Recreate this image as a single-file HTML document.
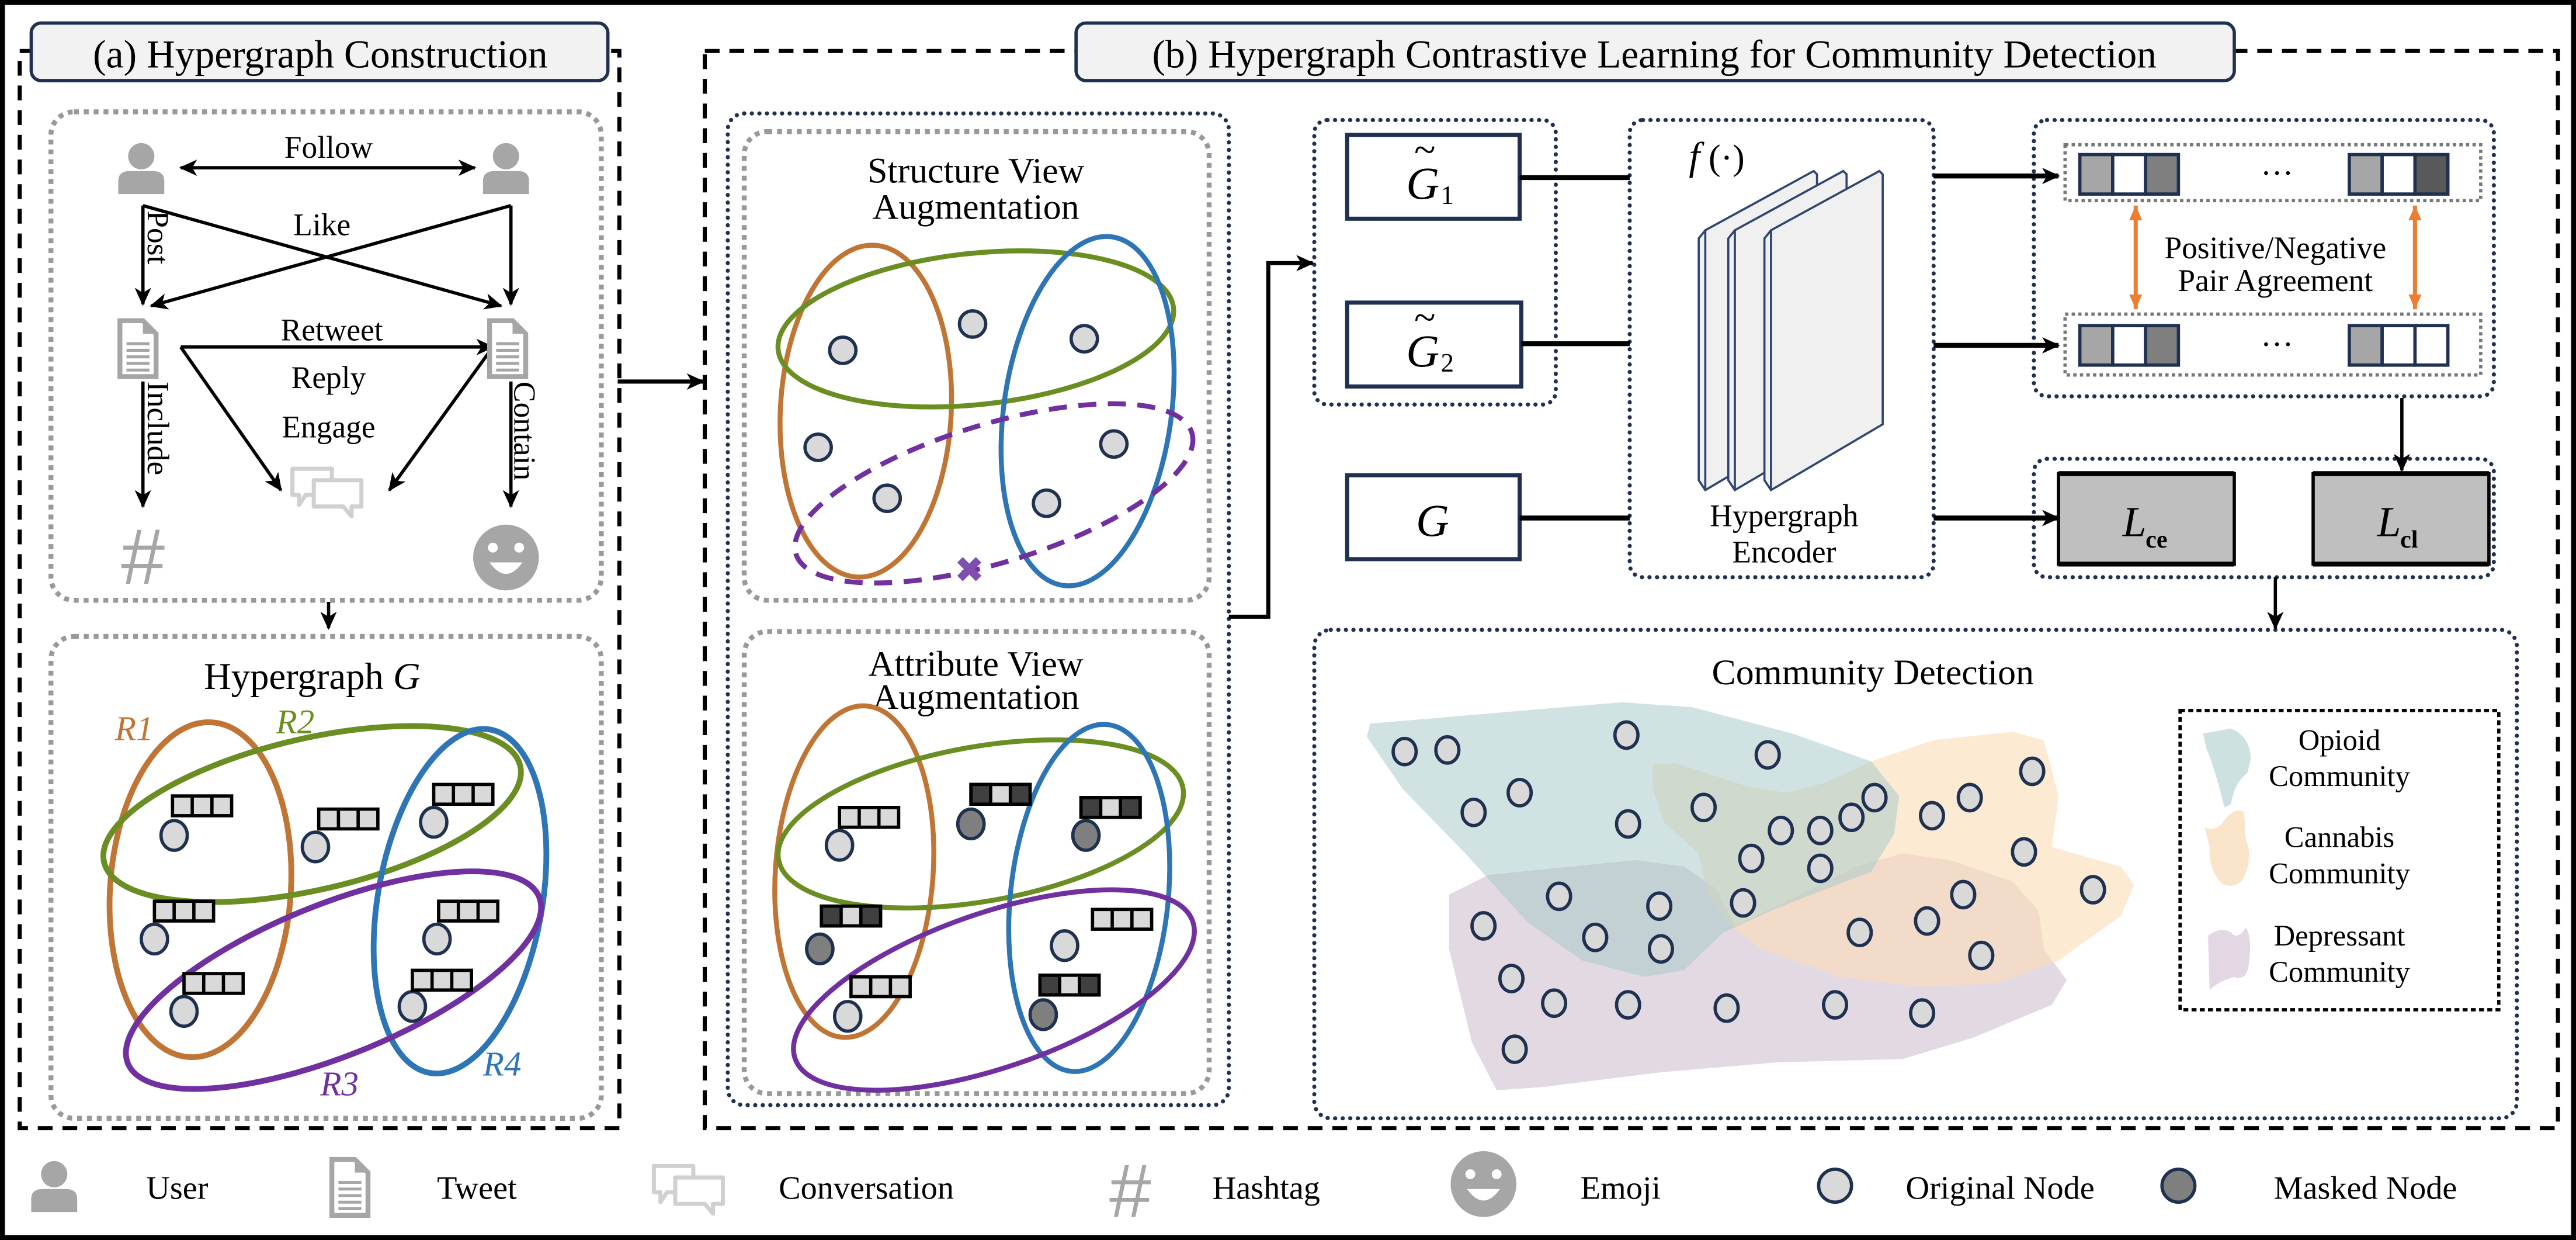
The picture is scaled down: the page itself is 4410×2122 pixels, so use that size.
<!DOCTYPE html>
<html><head><meta charset="utf-8"><style>
html,body{margin:0;padding:0;background:#fff}
svg{display:block}
</style></head><body>
<svg width="4410" height="2122" viewBox="0 0 1568 754" preserveAspectRatio="none" xmlns="http://www.w3.org/2000/svg" font-family="'Liberation Serif','DejaVu Serif',serif">
<defs>
<marker id="ah" markerUnits="userSpaceOnUse" markerWidth="12" markerHeight="12" refX="10" refY="6" orient="auto-start-reverse"><path d="M0,1 L11,6 L0,11 L3,6 Z" fill="#000"/></marker>
<marker id="ao" markerUnits="userSpaceOnUse" markerWidth="10" markerHeight="10" refX="9" refY="5" orient="auto-start-reverse"><path d="M0,1 L9,5 L0,9 Z" fill="#ed7d31"/></marker>
<symbol id="user" viewBox="-16 -19 32 34" overflow="visible"><circle cx="0" cy="-9" r="8" fill="#a6a6a6"/><path d="M-14,14 L-14,6 Q-14,0 -7,0 L7,0 Q14,0 14,6 L14,14 Z" fill="#a6a6a6"/></symbol>
<symbol id="doc" viewBox="-13 -19 26 38" overflow="visible"><path d="M-11,-17 L3,-17 L11,-9 L11,17 L-11,17 Z" fill="#fff" stroke="#a6a6a6" stroke-width="3"/><path d="M3,-17 L3,-9 L11,-9 Z" fill="#a6a6a6"/><g stroke="#a6a6a6" stroke-width="1.8"><line x1="-7" y1="-3" x2="7" y2="-3"/><line x1="-7" y1="1" x2="7" y2="1"/><line x1="-7" y1="5" x2="7" y2="5"/><line x1="-7" y1="9" x2="7" y2="9"/><line x1="-7" y1="13" x2="7" y2="13"/></g></symbol>
<symbol id="chat" viewBox="-26 -16 52 34" overflow="visible"><g fill="#fff" stroke="#d0d0d0" stroke-width="2.5" stroke-linejoin="round"><path d="M-22,-13 L2,-13 L2,3 L-14,3 L-18,9 L-18,3 L-22,3 Z"/><path d="M-9,-6 L20,-6 L20,10 L14,10 L14,16 L9,10 L-9,10 Z"/></g></symbol>
<symbol id="bar" overflow="visible"><rect x="0" y="0" width="36" height="12" fill="#d9d9d9" stroke="#000" stroke-width="2"/><line x1="12" y1="0" x2="12" y2="12" stroke="#000" stroke-width="2"/><line x1="24" y1="0" x2="24" y2="12" stroke="#000" stroke-width="2"/></symbol>
<symbol id="bard" overflow="visible"><rect x="0" y="0" width="36" height="12" fill="#d9d9d9" stroke="#000" stroke-width="2"/><rect x="0" y="0" width="12" height="12" fill="#404040" stroke="#000" stroke-width="2"/><rect x="24" y="0" width="12" height="12" fill="#404040" stroke="#000" stroke-width="2"/></symbol>
</defs>

<rect x="1.5" y="1.5" width="1565" height="751" fill="#fff" stroke="#000" stroke-width="3"/>

<!-- Panel (a) -->
<rect x="12" y="31" width="365" height="655" fill="none" stroke="#000" stroke-width="2.5" stroke-dasharray="9 6"/>
<rect x="19" y="14" width="351" height="35" rx="6" fill="#f2f2f2" stroke="#1f3050" stroke-width="2"/>
<text x="195" y="41" font-size="24" text-anchor="middle">(a) Hypergraph Construction</text>

<rect x="31" y="68" width="335" height="297" rx="14" fill="none" stroke="#999" stroke-width="3" stroke-dasharray="3 3"/>
<use href="#user" x="70" y="85" width="32" height="34"/>
<use href="#user" x="292" y="85" width="32" height="34"/>
<line x1="110" y1="102" x2="289" y2="102" stroke="#000" stroke-width="2" marker-start="url(#ah)" marker-end="url(#ah)"/>
<text x="200" y="96" font-size="19" text-anchor="middle">Follow</text>
<g stroke="#000" stroke-width="2" fill="none">
<polyline points="87,125 87,185" marker-end="url(#ah)"/>
<line x1="87" y1="125" x2="305" y2="186" marker-end="url(#ah)"/>
<polyline points="311,125 311,185" marker-end="url(#ah)"/>
<line x1="311" y1="125" x2="92" y2="186" marker-end="url(#ah)"/>
<line x1="110" y1="211" x2="300" y2="211" marker-end="url(#ah)"/>
<line x1="110" y1="211" x2="171" y2="298" marker-end="url(#ah)"/>
<line x1="300" y1="211" x2="237" y2="298" marker-end="url(#ah)"/>
<line x1="87" y1="232" x2="87" y2="308" marker-end="url(#ah)"/>
<line x1="311" y1="232" x2="311" y2="308" marker-end="url(#ah)"/>
</g>
<text x="196" y="143" font-size="19" text-anchor="middle">Like</text>
<text transform="translate(90,128) rotate(90)" font-size="19">Post</text>
<use href="#doc" x="71" y="193" width="26" height="38"/>
<use href="#doc" x="296" y="193" width="26" height="38"/>
<text x="202" y="207" font-size="19" text-anchor="middle">Retweet</text>
<text x="200" y="236" font-size="19" text-anchor="middle">Reply</text>
<text x="200" y="266" font-size="19" text-anchor="middle">Engage</text>
<use href="#chat" x="174" y="282" width="52" height="34"/>
<text transform="translate(90,232) rotate(90)" font-size="19">Include</text>
<text transform="translate(313,232) rotate(90)" font-size="19">Contain</text>
<text x="87" y="355" font-size="48" text-anchor="middle" fill="#a6a6a6" font-family="'Liberation Sans',sans-serif">#</text>
<circle cx="308" cy="339" r="20" fill="#a6a6a6"/>
<circle cx="300" cy="333" r="3" fill="#fff"/><circle cx="316" cy="333" r="3" fill="#fff"/>
<path d="M298,342 Q308,356 318,342 Z" fill="#fff"/>
<line x1="200" y1="366" x2="200" y2="382" stroke="#000" stroke-width="2" marker-end="url(#ah)"/>

<rect x="31" y="387" width="335" height="293" rx="14" fill="none" stroke="#999" stroke-width="3" stroke-dasharray="3 3"/>
<text x="190" y="419" font-size="23" text-anchor="middle">Hypergraph <tspan font-style="italic">G</tspan></text>
<g fill="none" stroke-width="3.5">
<ellipse cx="122" cy="541" rx="55" ry="102" transform="rotate(4 122 541)" stroke="#c07535"/>
<ellipse cx="190" cy="495" rx="130" ry="46" transform="rotate(-13 190 495)" stroke="#6b8e23"/>
<ellipse cx="280" cy="548" rx="50" ry="106" transform="rotate(10 280 548)" stroke="#2e75b6"/>
<ellipse cx="203" cy="596" rx="135" ry="46" transform="rotate(-22 203 596)" stroke="#7030a0"/>
</g>
<g font-size="21" font-style="italic">
<text x="70" y="450" fill="#c07535">R1</text>
<text x="168" y="446" fill="#6b8e23">R2</text>
<text x="195" y="666" fill="#7030a0">R3</text>
<text x="294" y="654" fill="#2e75b6">R4</text>
</g>
<g fill="#d9d9d9" stroke="#1f3050" stroke-width="2">
<ellipse cx="106" cy="508" rx="8" ry="9"/><ellipse cx="192" cy="515" rx="8" ry="9"/><ellipse cx="264" cy="500" rx="8" ry="9"/>
<ellipse cx="94" cy="571" rx="8" ry="9"/><ellipse cx="266" cy="571" rx="8" ry="9"/><ellipse cx="112" cy="615" rx="8" ry="9"/><ellipse cx="251" cy="612" rx="8" ry="9"/>
</g>
<use href="#bar" x="105" y="484"/><use href="#bar" x="194" y="492"/><use href="#bar" x="264" y="477"/>
<use href="#bar" x="94" y="548"/><use href="#bar" x="267" y="548"/><use href="#bar" x="112" y="592"/><use href="#bar" x="251" y="590"/>

<!-- Panel (b) -->
<line x1="376" y1="232" x2="428" y2="232" stroke="#000" stroke-width="2.5" marker-end="url(#ah)"/>
<rect x="429" y="31" width="1128" height="655" fill="none" stroke="#000" stroke-width="2.5" stroke-dasharray="9 6"/>
<rect x="655" y="14" width="705" height="35" rx="6" fill="#f2f2f2" stroke="#1f3050" stroke-width="2"/>
<text x="1007" y="41" font-size="24" text-anchor="middle">(b) Hypergraph Contrastive Learning for Community Detection</text>

<g fill="none" stroke="#1f3050" stroke-width="2.5" stroke-dasharray="0.1 4.5" stroke-linecap="round">
<rect x="443" y="69" width="305" height="603" rx="10"/>
<rect x="800" y="73" width="147" height="173" rx="8"/>
<rect x="992" y="73" width="185" height="278" rx="8"/>
<rect x="1238" y="73" width="280" height="168" rx="8"/>
<rect x="1238" y="279" width="280" height="72" rx="8"/>
<rect x="800" y="383" width="732" height="297" rx="10"/>
</g>
<g fill="none" stroke="#999" stroke-width="3" stroke-dasharray="3 3">
<rect x="453" y="80" width="283" height="285" rx="14"/>
<rect x="453" y="384" width="283" height="281" rx="14"/>
</g>
<text x="594" y="111" font-size="22" text-anchor="middle">Structure View</text>
<text x="594" y="133" font-size="22" text-anchor="middle">Augmentation</text>
<g fill="none" stroke-width="3">
<ellipse cx="527" cy="250" rx="52" ry="101" transform="rotate(3 527 250)" stroke="#c07535"/>
<ellipse cx="594" cy="200" rx="121" ry="46" transform="rotate(-6 594 200)" stroke="#6b8e23"/>
<ellipse cx="662" cy="250" rx="51" ry="107" transform="rotate(8 662 250)" stroke="#2e75b6"/>
<ellipse cx="605" cy="300" rx="126" ry="42" transform="rotate(-17 605 300)" stroke="#7030a0" stroke-dasharray="11 7"/>
</g>
<text x="590" y="354" font-size="22" text-anchor="middle" fill="#7f4fb0" font-family="'DejaVu Sans',sans-serif" font-weight="bold">✖</text>
<g fill="#d9d9d9" stroke="#1f3050" stroke-width="2">
<circle cx="513" cy="213" r="8"/><circle cx="592" cy="197" r="8"/><circle cx="660" cy="206" r="8"/>
<circle cx="498" cy="272" r="8"/><circle cx="540" cy="303" r="8"/><circle cx="678" cy="270" r="8"/><circle cx="637" cy="306" r="8"/>
</g>

<text x="594" y="411" font-size="22" text-anchor="middle">Attribute View</text>
<text x="594" y="431" font-size="22" text-anchor="middle">Augmentation</text>
<g fill="none" stroke-width="3">
<ellipse cx="520" cy="530" rx="48" ry="101" transform="rotate(4 520 530)" stroke="#c07535"/>
<ellipse cx="597" cy="501" rx="125" ry="47" transform="rotate(-10 597 501)" stroke="#6b8e23"/>
<ellipse cx="663" cy="546" rx="48" ry="106" transform="rotate(6 663 546)" stroke="#2e75b6"/>
<ellipse cx="605" cy="602" rx="128" ry="47" transform="rotate(-19 605 602)" stroke="#7030a0"/>
</g>
<g stroke="#1f3050" stroke-width="2">
<ellipse cx="511" cy="514" rx="8" ry="9" fill="#d9d9d9"/><ellipse cx="591" cy="501" rx="8" ry="9" fill="#7f7f7f"/><ellipse cx="661" cy="508" rx="8" ry="9" fill="#7f7f7f"/>
<ellipse cx="499" cy="577" rx="8" ry="9" fill="#7f7f7f"/><ellipse cx="516" cy="618" rx="8" ry="9" fill="#d9d9d9"/><ellipse cx="648" cy="575" rx="8" ry="9" fill="#d9d9d9"/><ellipse cx="635" cy="617" rx="8" ry="9" fill="#7f7f7f"/>
</g>
<use href="#bar" x="511" y="491"/><use href="#bard" x="591" y="477"/><use href="#bard" x="658" y="485"/>
<use href="#bard" x="500" y="551"/><use href="#bar" x="518" y="594"/><use href="#bar" x="665" y="553"/><use href="#bard" x="633" y="593"/>

<polyline points="748,375 772,375 772,160 799,160" fill="none" stroke="#000" stroke-width="2.5" marker-end="url(#ah)"/>

<g fill="#fff" stroke="#1f3050" stroke-width="2.5">
<rect x="820" y="82" width="105" height="51"/>
<rect x="820" y="184" width="106" height="51"/>
<rect x="820" y="289" width="105" height="51"/>
</g>
<g font-size="28" font-style="italic" text-anchor="middle">
<text x="866" y="121">G</text><text x="867" y="99" font-size="24">~</text><text x="881" y="124" font-size="16" font-style="normal">1</text>
<text x="866" y="223">G</text><text x="867" y="201" font-size="24">~</text><text x="881" y="226" font-size="16" font-style="normal">2</text>
<text x="872" y="326">G</text>
</g>
<g stroke="#000" stroke-width="3">
<line x1="925" y1="108" x2="992" y2="108"/><line x1="926" y1="209" x2="992" y2="209"/><line x1="925" y1="315" x2="992" y2="315"/>
</g>
<text x="1028" y="103" font-size="24" font-style="italic">f</text><text x="1040" y="103" font-size="22">(·)</text>
<g fill="#f0f0f0" stroke="#2f4470" stroke-width="1.3">
<path d="M1034,145 L1038,140 L1104,104 L1106,106 L1106,258 L1038,298 L1034,292 Z"/><line x1="1038" y1="140" x2="1038" y2="298"/>
<path d="M1052,145 L1056,140 L1122,104 L1124,106 L1124,258 L1056,298 L1052,292 Z"/><line x1="1056" y1="140" x2="1056" y2="298"/>
<path d="M1074,145 L1078,140 L1144,104 L1146,106 L1146,258 L1078,298 L1074,292 Z"/><line x1="1078" y1="140" x2="1078" y2="298"/>
</g>
<text x="1086" y="320" font-size="19" text-anchor="middle">Hypergraph</text>
<text x="1086" y="342" font-size="19" text-anchor="middle">Encoder</text>
<g stroke="#000" stroke-width="3">
<line x1="1177" y1="107" x2="1253" y2="107" marker-end="url(#ah)"/>
<line x1="1177" y1="210" x2="1253" y2="210" marker-end="url(#ah)"/>
<line x1="1177" y1="315" x2="1253" y2="315" marker-end="url(#ah)"/>
</g>
<g fill="none" stroke="#777" stroke-width="2" stroke-dasharray="2 2">
<rect x="1257" y="88" width="253" height="34"/>
<rect x="1257" y="191" width="253" height="37"/>
</g>
<g stroke="#1f3050" stroke-width="2">
<rect x="1266" y="94" width="20" height="24" fill="#a6a6a6"/><rect x="1286" y="94" width="20" height="24" fill="#fff"/><rect x="1306" y="94" width="20" height="24" fill="#7f7f7f"/>
<rect x="1430" y="94" width="20" height="24" fill="#a6a6a6"/><rect x="1450" y="94" width="20" height="24" fill="#fff"/><rect x="1470" y="94" width="20" height="24" fill="#595959"/>
<rect x="1266" y="198" width="20" height="24" fill="#a6a6a6"/><rect x="1286" y="198" width="20" height="24" fill="#fff"/><rect x="1306" y="198" width="20" height="24" fill="#7f7f7f"/>
<rect x="1430" y="198" width="20" height="24" fill="#a6a6a6"/><rect x="1450" y="198" width="20" height="24" fill="#fff"/><rect x="1470" y="198" width="20" height="24" fill="#fff"/>
</g>
<text x="1386" y="112" font-size="20" text-anchor="middle">···</text>
<text x="1386" y="216" font-size="20" text-anchor="middle">···</text>
<g stroke="#ed7d31" stroke-width="2.5">
<line x1="1300" y1="125" x2="1300" y2="188" marker-start="url(#ao)" marker-end="url(#ao)"/>
<line x1="1470" y1="125" x2="1470" y2="188" marker-start="url(#ao)" marker-end="url(#ao)"/>
</g>
<text x="1385" y="157" font-size="19" text-anchor="middle">Positive/Negative</text>
<text x="1385" y="177" font-size="19" text-anchor="middle">Pair Agreement</text>
<line x1="1462" y1="242" x2="1462" y2="286" stroke="#000" stroke-width="2" marker-end="url(#ah)"/>
<g fill="#bfbfbf" stroke="#000" stroke-width="2">
<rect x="1253" y="288" width="107" height="55"/><rect x="1408" y="288" width="107" height="55"/>
</g>
<g stroke="#000" stroke-width="3"><line x1="1253" y1="288" x2="1360" y2="288"/><line x1="1253" y1="343" x2="1360" y2="343"/><line x1="1408" y1="288" x2="1515" y2="288"/><line x1="1408" y1="343" x2="1515" y2="343"/></g>
<text x="1292" y="326" font-size="26" font-style="italic">L</text><text x="1306" y="333" font-size="15" font-weight="bold">ce</text>
<text x="1447" y="326" font-size="26" font-style="italic">L</text><text x="1461" y="333" font-size="15" font-weight="bold">cl</text>
<line x1="1385" y1="351" x2="1385" y2="382" stroke="#000" stroke-width="2" marker-end="url(#ah)"/>

<!-- Community detection -->
<text x="1140" y="416" font-size="22" text-anchor="middle">Community Detection</text>
<path d="M882,544 L906,532 L996,523 L1025,527 L1044,540 L1056,563 L1092,546 L1130,527 L1158,519 L1187,523 L1225,536 L1241,554 L1244,577 L1258,596 L1249,611 L1201,631 L1158,644 L1082,646 L1011,652 L939,661 L911,663 L896,634 L882,577 Z" fill="#dccfdc" fill-opacity="0.8"/>
<path d="M1006,465 L1020,464 L1063,478 L1087,482 L1111,476 L1139,463 L1177,450 L1225,445 L1244,450 L1253,484 L1249,515 L1291,527 L1299,538 L1291,557 L1253,584 L1215,598 L1168,600 L1120,594 L1072,577 L1053,563 L1039,542 L1034,519 L1013,500 L1006,480 Z" fill="#fbdcb6" fill-opacity="0.6"/>
<path d="M834,440 L987,427 L1030,430 L1091,446 L1139,463 L1156,484 L1153,507 L1139,530 L1082,552 L1049,567 L1025,590 L1001,594 L963,584 L930,561 L892,519 L854,480 L832,448 Z" fill="#a9cbcb" fill-opacity="0.55"/>
<g fill="#d9d9d9" stroke="#1f3050" stroke-width="2">
<ellipse cx="855" cy="457" rx="7" ry="8"/><ellipse cx="881" cy="456" rx="7" ry="8"/><ellipse cx="990" cy="447" rx="7" ry="8"/><ellipse cx="1076" cy="459" rx="7" ry="8"/>
<ellipse cx="925" cy="482" rx="7" ry="8"/><ellipse cx="897" cy="494" rx="7" ry="8"/><ellipse cx="991" cy="501" rx="7" ry="8"/><ellipse cx="1037" cy="491" rx="7" ry="8"/>
<ellipse cx="1141" cy="485" rx="7" ry="8"/><ellipse cx="1127" cy="497" rx="7" ry="8"/><ellipse cx="1108" cy="505" rx="7" ry="8"/><ellipse cx="1084" cy="505" rx="7" ry="8"/>
<ellipse cx="1066" cy="522" rx="7" ry="8"/><ellipse cx="1108" cy="528" rx="7" ry="8"/><ellipse cx="1061" cy="549" rx="7" ry="8"/><ellipse cx="1176" cy="496" rx="7" ry="8"/>
<ellipse cx="1199" cy="485" rx="7" ry="8"/><ellipse cx="1237" cy="469" rx="7" ry="8"/><ellipse cx="1232" cy="518" rx="7" ry="8"/><ellipse cx="1274" cy="541" rx="7" ry="8"/>
<ellipse cx="949" cy="545" rx="7" ry="8"/><ellipse cx="1010" cy="551" rx="7" ry="8"/><ellipse cx="1195" cy="544" rx="7" ry="8"/><ellipse cx="1132" cy="567" rx="7" ry="8"/>
<ellipse cx="1173" cy="560" rx="7" ry="8"/><ellipse cx="1206" cy="581" rx="7" ry="8"/><ellipse cx="903" cy="563" rx="7" ry="8"/><ellipse cx="971" cy="570" rx="7" ry="8"/>
<ellipse cx="1011" cy="577" rx="7" ry="8"/><ellipse cx="920" cy="595" rx="7" ry="8"/><ellipse cx="946" cy="610" rx="7" ry="8"/><ellipse cx="991" cy="611" rx="7" ry="8"/>
<ellipse cx="1051" cy="613" rx="7" ry="8"/><ellipse cx="1117" cy="611" rx="7" ry="8"/><ellipse cx="1170" cy="616" rx="7" ry="8"/><ellipse cx="922" cy="638" rx="7" ry="8"/>
</g>
<rect x="1327" y="432" width="194" height="182" fill="none" stroke="#000" stroke-width="2" stroke-dasharray="3 2"/>
<path d="M1341,446 L1358,443 Q1370,448 1370,462 L1368,470 Q1360,476 1358,489 L1354,491 Q1349,470 1343,455 Z" fill="#cde1e1"/>
<path d="M1342,503 Q1348,506 1353,500 Q1360,490 1366,494 L1367,510 Q1372,522 1365,535 Q1360,541 1352,537 Q1344,528 1345,515 Z" fill="#fbe5ca"/>
<path d="M1344,569 Q1352,563 1358,567 Q1362,572 1367,564 Q1371,570 1369,585 Q1368,597 1360,594 Q1350,597 1345,602 Z" fill="#e3d7e3"/>
<g font-size="18" text-anchor="middle">
<text x="1424" y="456">Opioid</text><text x="1424" y="478">Community</text>
<text x="1424" y="515">Cannabis</text><text x="1424" y="537">Community</text>
<text x="1424" y="575">Depressant</text><text x="1424" y="597">Community</text>
</g>

<!-- Bottom legend -->
<use href="#user" x="17" y="704" width="32" height="34"/>
<text x="89" y="729" font-size="20">User</text>
<use href="#doc" x="200" y="703" width="26" height="38"/>
<text x="266" y="729" font-size="20">Tweet</text>
<use href="#chat" x="394" y="706" width="52" height="34"/>
<text x="474" y="729" font-size="20">Conversation</text>
<text x="688" y="740" font-size="46" text-anchor="middle" fill="#a6a6a6" font-family="'Liberation Sans',sans-serif">#</text>
<text x="738" y="729" font-size="20">Hashtag</text>
<circle cx="903" cy="720" r="20" fill="#a6a6a6"/>
<circle cx="895" cy="714" r="3" fill="#fff"/><circle cx="911" cy="714" r="3" fill="#fff"/>
<path d="M893,723 Q903,737 913,723 Z" fill="#fff"/>
<text x="962" y="729" font-size="20">Emoji</text>
<circle cx="1117" cy="721" r="10" fill="#d9d9d9" stroke="#1f3050" stroke-width="2"/>
<text x="1160" y="729" font-size="20">Original Node</text>
<circle cx="1326" cy="721" r="10" fill="#7f7f7f" stroke="#1f3050" stroke-width="2"/>
<text x="1384" y="729" font-size="20">Masked Node</text>
</svg>
</body></html>
